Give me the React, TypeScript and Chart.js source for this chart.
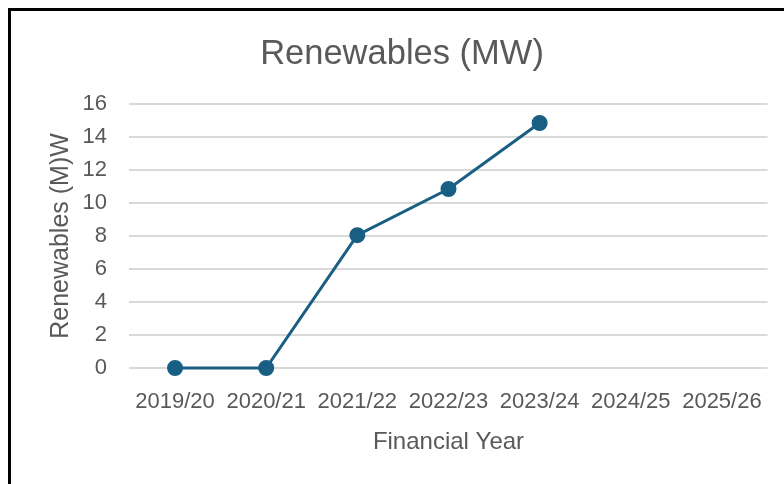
import React, { useEffect, useRef } from "react";
import { Chart, registerables } from "chart.js";

Chart.register(...registerables);

const categories = ["2019/20", "2020/21", "2021/22", "2022/23", "2023/24", "2024/25", "2025/26"];
const renewables = [0, 0, 8.05, 10.85, 14.85, null, null];
const chartTitle = "Renewables (MW)";
const xTitle = "Financial Year";
const yTitle = "Renewables (M)W";

const FONT = "'Liberation Sans', Arial, sans-serif";
const GREY = "#595959";

export default function App() {
  const ref = useRef<HTMLCanvasElement | null>(null);

  useEffect(() => {
    if (!ref.current) return;
    const chart = new Chart(ref.current, {
      type: "line",
      data: {
        labels: categories,
        datasets: [
          {
            label: "Renewables",
            data: renewables,
            borderColor: "#195E83",
            backgroundColor: "#195E83",
            borderWidth: 3,
            pointRadius: 6.5,
            pointHoverRadius: 6.5,
            pointBackgroundColor: "#195E83",
            pointBorderColor: "#195E83",
            tension: 0,
            spanGaps: false,
            clip: false,
          },
        ],
      },
      options: {
        responsive: false,
        animation: false,
        layout: { padding: { left: 25.5, right: 16.5, top: 0, bottom: 27.6 } },
        plugins: {
          legend: { display: false },
          tooltip: { enabled: false },
          title: {
            display: true,
            text: chartTitle,
            color: GREY,
            font: { family: FONT, size: 34.5, weight: "normal" },
            padding: { top: 22.5, bottom: 29.1 },
          },
        },
        scales: {
          x: {
            offset: true,
            grid: {
              display: true,
              drawOnChartArea: false,
              drawTicks: true,
              tickLength: 16.8,
              color: "rgba(0,0,0,0)",
              tickColor: "rgba(0,0,0,0)",
            },
            border: { display: false },
            ticks: {
              color: GREY,
              font: { family: FONT, size: 22 },
              padding: 4,
              maxRotation: 0,
              autoSkip: false,
            },
            title: {
              display: true,
              text: xTitle,
              color: GREY,
              font: { family: FONT, size: 24 },
              padding: { top: 8.4, bottom: 0 },
            },
          },
          y: {
            min: 0,
            max: 16,
            grid: {
              color: "#d9d9d9",
              lineWidth: 2,
              drawTicks: true,
              tickLength: 18.5,
              tickColor: "rgba(0,0,0,0)",
            },
            border: { display: false },
            ticks: {
              stepSize: 2,
              color: GREY,
              font: { family: FONT, size: 22 },
              padding: 4,
            },
            title: {
              display: true,
              text: yTitle,
              color: GREY,
              font: { family: FONT, size: 25 },
              padding: { top: 9.5, bottom: 2.5 },
            },
          },
        },
      },
    });
    return () => chart.destroy();
  }, []);

  return (
    <div
      style={{
        position: "fixed",
        left: 8,
        top: 8,
        width: 900,
        height: 600,
        border: "3px solid #000",
        background: "#fff",
        boxSizing: "border-box",
      }}
    >
      <canvas ref={ref} width={773} height={473} style={{ display: "block" }} />
    </div>
  );
}
